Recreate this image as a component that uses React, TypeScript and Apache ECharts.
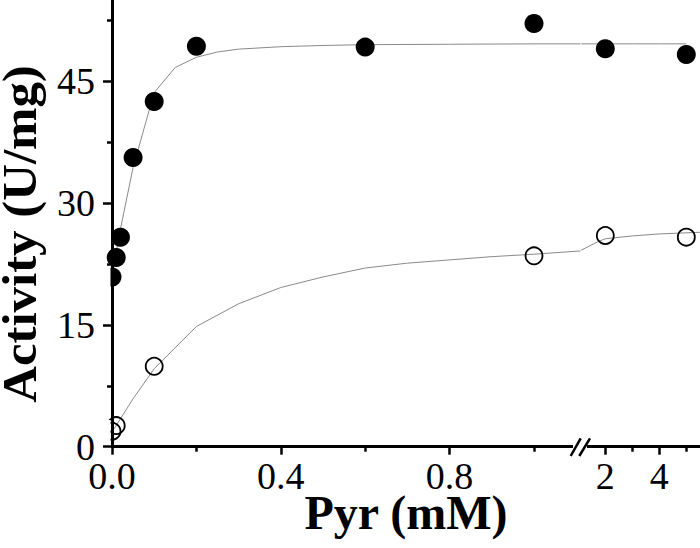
import React, { useEffect, useRef } from "react";
import * as echarts from "echarts";

// ---- data ----
const BREAK_AT = 1.11; // axis break between the two linear segments (mM)
const X_MAX = 5.5;
const Y_MAX = 55;

// filled circles
const filledX = [0, 0.01, 0.02, 0.05, 0.1, 0.2, 0.6, 1.0, 2, 5];
const filledY = [20.9, 23.3, 25.8, 35.6, 42.5, 49.3, 49.2, 52.1, 49.0, 48.3];
// open circles
const openX = [0, 0.01, 0.1, 1.0, 2, 5];
const openY = [1.9, 2.6, 9.9, 23.5, 26.0, 25.8];

// fitted curves
const filledFitX = [0, 0.01, 0.02, 0.05, 0.1, 0.15, 0.2, 0.25, 0.3, 0.4, 0.5, 0.6, 0.8, 1.0, 1.11, 2, 3, 4, 5];
const filledFitY = [21.5, 24.0, 26.8, 34.4, 43.6, 46.7, 47.95, 48.6, 48.95, 49.25, 49.4, 49.5, 49.55, 49.6, 49.6, 49.6, 49.6, 49.6, 49.6];
const openFitX = [0, 0.05, 0.1, 0.2, 0.3, 0.4, 0.5, 0.6, 0.7, 0.8, 0.9, 1.0, 1.11];
const openFitY = [1.8, 5.9, 9.6, 14.8, 17.6, 19.6, 20.9, 22.0, 22.6, 23.0, 23.4, 23.7, 24.1];
const openFitBX = [1.11, 1.7, 2, 3, 4, 5.5];
const openFitBY = [24.2, 25.2, 25.6, 25.95, 26.2, 26.4];

// ticks
const xMajorA = [0, 0.4, 0.8];
const xMinorA = [0.2, 0.6, 1.0];
const xMajorB = [2, 4];
const xMinorB = [3, 5];
const yMajor = [0, 15, 30, 45];
const yMinor = [7.5, 22.5, 37.5, 52.5];

const X_TITLE = "Pyr (mM)";
const Y_TITLE = "Activity (U/mg)";

const FONT = '"Liberation Serif", "Times New Roman", serif';

const zip = (xs: number[], ys: number[]) => xs.map((x, i) => [x, ys[i]]);

export default function App() {
  const ref = useRef<HTMLDivElement>(null);

  useEffect(() => {
    if (!ref.current) return;
    const chart = echarts.init(ref.current, null, { renderer: "svg" });

    const AX_LEFT = 112;
    const AX_BOTTOM = 446.7;
    const PX_A = 422;
    const PX_B = 27;
    const gridH = AX_BOTTOM;
    const widthA = BREAK_AT * PX_A;
    const leftB = 605.3 - (2 - BREAK_AT) * PX_B;
    const widthB = (X_MAX - BREAK_AT) * PX_B;

    const tickStyle = { color: "#000", width: 2.5 };
    const labelStyle = { fontFamily: FONT, fontSize: 38, color: "#000" };

    const mkX = (grid: number, min: number, max: number, major: number[], minor: number[], fmt: (v: number) => string) => [
      {
        gridIndex: grid, type: "value", min, max, position: "bottom", z: 5,
        axisLine: { show: true, onZero: false, lineStyle: { color: "#000", width: 3 } },
        axisTick: { show: true, length: 8, lineStyle: tickStyle, customValues: major },
        axisLabel: { show: true, customValues: major, formatter: fmt, margin: 14, lineHeight: 30, ...labelStyle },
        splitLine: { show: false },
      },
      {
        gridIndex: grid, type: "value", min, max, position: "bottom", z: 5,
        axisLine: { show: false, onZero: false },
        axisTick: { show: true, length: 5, lineStyle: tickStyle, customValues: minor },
        axisLabel: { show: false },
        splitLine: { show: false },
      },
    ];

    const fitLine = (data: number[][], xi: number, yi: number) => ({
      type: "line", data, xAxisIndex: xi, yAxisIndex: yi, symbol: "none", showSymbol: false,
      lineStyle: { color: "#8a8a8a", width: 1 }, z: 1, silent: true, clip: false,
    });
    const filledScatter = (data: number[][], xi: number, yi: number) => ({
      type: "scatter", data, xAxisIndex: xi, yAxisIndex: yi, symbol: "circle", symbolSize: 19,
      itemStyle: { color: "#000", opacity: 1 }, z: 2, clip: false,
    });
    const openScatter = (data: number[][], xi: number, yi: number) => ({
      type: "scatter", data, xAxisIndex: xi, yAxisIndex: yi, symbol: "circle", symbolSize: 17,
      itemStyle: { color: "rgba(0,0,0,0)", borderColor: "#000", borderWidth: 1.8, opacity: 1 }, z: 2, clip: false,
    });

    const filledPts = zip(filledX, filledY);
    const openPts = zip(openX, openY);
    const filledFit = zip(filledFitX, filledFitY);

    chart.setOption({
      animation: false,
      backgroundColor: "#fff",
      grid: [
        { left: AX_LEFT, top: 0, width: widthA, height: gridH, containLabel: false },
        { left: leftB, top: 0, width: widthB, height: gridH, containLabel: false },
      ],
      xAxis: [
        ...mkX(0, 0, BREAK_AT, xMajorA, xMinorA, (v: number) => v.toFixed(1)),
        ...mkX(1, BREAK_AT, X_MAX, xMajorB, xMinorB, (v: number) => String(v)),
      ],
      yAxis: [
        {
          gridIndex: 0, type: "value", min: 0, max: Y_MAX, position: "left", z: 5,
          axisLine: { show: true, onZero: false, lineStyle: { color: "#000", width: 3 } },
          axisTick: { show: true, length: 9, lineStyle: tickStyle, customValues: yMajor },
          axisLabel: { show: true, customValues: yMajor, margin: 17, lineHeight: 26, ...labelStyle },
          splitLine: { show: false },
        },
        {
          gridIndex: 0, type: "value", min: 0, max: Y_MAX, position: "left", z: 5,
          axisLine: { show: false, onZero: false },
          axisTick: { show: true, length: 5, lineStyle: tickStyle, customValues: yMinor },
          axisLabel: { show: false },
          splitLine: { show: false },
        },
        {
          gridIndex: 1, type: "value", min: 0, max: Y_MAX, show: false,
          axisLine: { show: false }, axisTick: { show: false }, axisLabel: { show: false }, splitLine: { show: false },
        },
      ],
      series: [
        fitLine(filledFit.filter((p) => p[0] <= BREAK_AT), 0, 0),
        fitLine(filledFit.filter((p) => p[0] >= BREAK_AT), 2, 2),
        fitLine(zip(openFitX, openFitY), 0, 0),
        fitLine(zip(openFitBX, openFitBY), 2, 2),
        filledScatter(filledPts.filter((p) => p[0] <= BREAK_AT), 0, 0),
        filledScatter(filledPts.filter((p) => p[0] > BREAK_AT), 2, 2),
        openScatter(openPts.filter((p) => p[0] <= BREAK_AT), 0, 0),
        openScatter(openPts.filter((p) => p[0] > BREAK_AT), 2, 2),
      ],
      graphic: {
        elements: [
          // mask left of the y axis (reference clips symbols at the axis)
          { type: "rect", z: 3, shape: { x: 98, y: 266, width: 12.5, height: 22 }, style: { fill: "#fff" }, silent: true },
          { type: "rect", z: 3, shape: { x: 98, y: 420, width: 12.5, height: 23.5 }, style: { fill: "#fff" }, silent: true },
          // axis break mark
          { type: "rect", z: 10, shape: { x: 573, y: 442, width: 14, height: 10 }, style: { fill: "#fff" }, silent: true },
          { type: "line", z: 11, shape: { x1: 570.7, y1: 456, x2: 580.7, y2: 438.3 }, style: { stroke: "#000", lineWidth: 2.5 }, silent: true },
          { type: "line", z: 11, shape: { x1: 579.3, y1: 456, x2: 590, y2: 438.3 }, style: { stroke: "#000", lineWidth: 2.5 }, silent: true },
          // axis titles
          {
            type: "text", z: 10, x: 406, y: 512,
            style: { text: X_TITLE, font: `bold 48px ${FONT}`, lineHeight: 36, fill: "#000", align: "center", verticalAlign: "middle", textAlign: "center", textVerticalAlign: "middle" },
          },
          {
            type: "text", z: 10, x: 20, y: 234, rotation: Math.PI / 2, scaleX: 1.06,
            style: { text: Y_TITLE, font: `bold 48px ${FONT}`, lineHeight: 36, fill: "#000", align: "center", verticalAlign: "middle", textAlign: "center", textVerticalAlign: "middle" },
          },
        ],
      },
    });

    return () => chart.dispose();
  }, []);

  return <div ref={ref} style={{ position: "absolute", left: 0, top: 0, width: 700, height: 548 }} />;
}
